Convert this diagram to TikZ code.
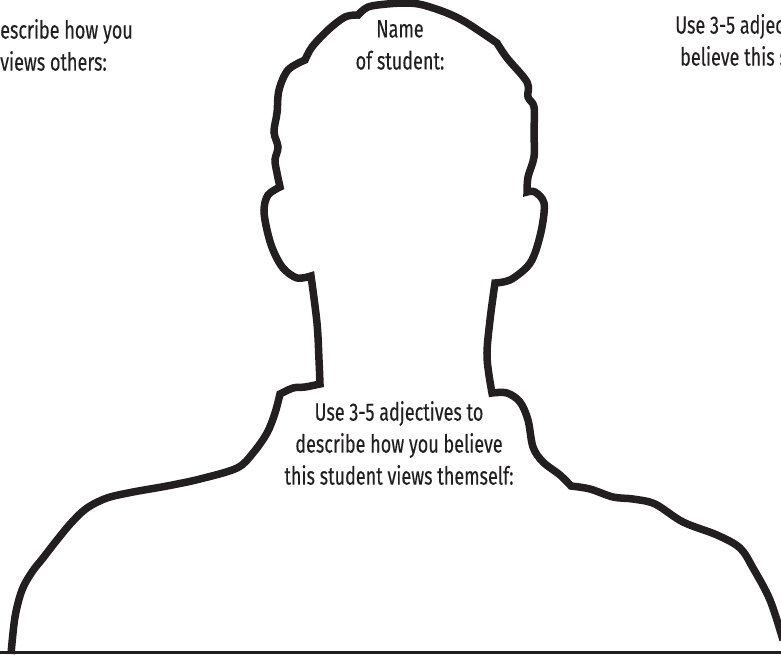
\documentclass[tikz,border=0pt]{standalone}
\usepackage{fontspec}
\setmainfont[FakeStretch=0.72,FakeBold=0.25]{Fira Sans}
\definecolor{ink}{HTML}{231F20}
\tikzset{
  outline/.style={draw=ink,line width=7.5pt,line join=miter,miter limit=4},
  label/.style={text=ink,font=\fontsize{25}{32}\selectfont,align=center,inner sep=0pt,anchor=center},
  edgeleft/.style={label,align=left}
}
\begin{document}
\begin{tikzpicture}[x=1pt,y=-1pt]
\useasboundingbox (0,0) rectangle (781,654);
\draw[outline] plot[smooth,tension=0.55] coordinates {(11,654) (15,617) (22,590) (32,572) (43,558) (57,540) (72,522) (87,508) (107,498) (133,492) (167,486) (200,479) (237,468) (253,453) (267,433) (275,413) (280,394)}
 -- plot[smooth,tension=0.55] coordinates {(280,394) (293,388) (305,387) (320,384)}
 -- plot[smooth,tension=0.55] coordinates {(320,384) (319,360) (317,323) (311,276)}
 -- plot[smooth,tension=0.55] coordinates {(311,276) (297,278) (283,268) (273,250) (267,230) (264,210) (268,195) (280,187)}
 -- plot[smooth,tension=0.55] coordinates {(280,187) (277,173) (275,160) (278,147) (274,132) (277,113) (279,90) (288,70) (305,60)}
 -- plot[smooth,tension=0.55] coordinates {(305,60) (312,47) (328,30) (345,17) (358,15)}
 -- plot[smooth,tension=0.55] coordinates {(358,15) (368,7) (387,4) (407,3) (423,5) (447,13) (467,23) (497,43)}
 -- plot[smooth,tension=0.55] coordinates {(497,43) (507,58) (527,82) (528,97) (534,107) (534,133) (534,157) (528,177) (527,192)}
 -- plot[smooth,tension=0.55] coordinates {(527,192) (535,192) (544,203) (542,227) (535,253) (527,267) (510,280) (495,283)}
 -- plot[smooth,tension=0.55] coordinates {(495,283) (490,320) (487,357) (492,393)}
 -- plot[smooth,tension=0.55] coordinates {(492,393) (507,393) (520,402) (528,420) (533,447) (543,462) (560,475) (571,486)}
 -- plot[smooth,tension=0.55] coordinates {(571,486) (590,489) (613,497) (633,499) (655,504) (683,522) (717,535) (740,548) (753,568) (770,600) (783,640)};
\fill[ink] (0,650.5) rectangle (781,654);
\node[label] (name) at (400,45) {Name\\of student:};
\node[label] (self) at (399,443) {Use 3-5 adjectives to\\describe how you believe\\this student views themself:};
\node[edgeleft,anchor=west] (left) at (0,45) {escribe how you\\views others:};
\node[edgeleft,anchor=west] (right) at (675,40) {Use 3-5 adjec\\\hspace*{5pt}believe this s};
\end{tikzpicture}
\end{document}
